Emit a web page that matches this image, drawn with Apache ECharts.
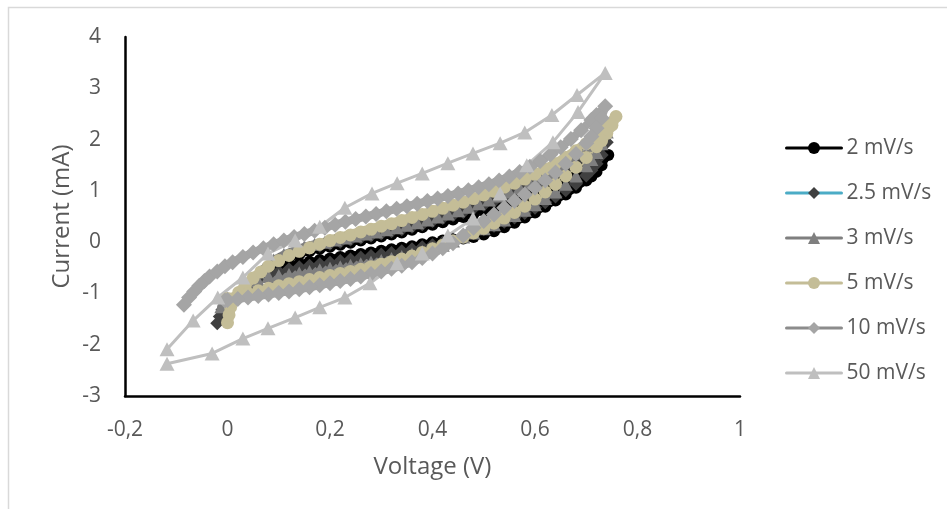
<!DOCTYPE html>
<html><head><meta charset="utf-8">
<script src="https://cdn.jsdelivr.net/npm/echarts@6/dist/echarts.min.js"></script>
<style>html,body{margin:0;padding:0;background:#fff}#c{width:947px;height:509px}</style>
</head><body><div id="c"></div>
<script>
const seriesNames = ['2 mV/s','2.5 mV/s','3 mV/s','5 mV/s','10 mV/s','50 mV/s'];
const xTickLabels = ['-0,2','0','0,2','0,4','0,6','0,8','1'];
const yTickLabels = ['-3','-2','-1','0','1','2','3','4'];

// 2 mV/s (forward then reverse)
const v_2 = [0.08,0.10,0.12,0.14,0.16,0.18,0.20,0.22,0.24,0.26,0.28,0.30,0.32,0.34,0.36,0.38,0.40,0.42,0.44,0.46,0.48,0.50,0.52,0.54,0.56,0.58,0.60,0.62,0.64,0.66,0.68,0.70,0.72,0.743,
  0.73,0.72,0.71,0.70,0.68,0.66,0.64,0.62,0.60,0.58,0.56,0.54,0.52,0.50,0.48,0.46,0.44,0.42,0.40,0.38,0.36,0.34,0.32,0.30,0.28,0.26,0.24,0.22,0.20,0.18,0.16,0.14,0.12,0.10,0.08];
const i_2 = [-0.52,-0.40,-0.31,-0.24,-0.18,-0.13,-0.09,-0.05,-0.01,0.03,0.07,0.11,0.15,0.19,0.24,0.29,0.34,0.39,0.44,0.49,0.55,0.61,0.67,0.73,0.79,0.86,0.93,1.01,1.09,1.18,1.28,1.40,1.54,1.70,
  1.50,1.37,1.28,1.20,1.06,0.93,0.81,0.69,0.58,0.48,0.38,0.29,0.21,0.15,0.10,0.07,0.05,0.03,0.00,-0.04,-0.08,-0.11,-0.14,-0.17,-0.20,-0.23,-0.26,-0.29,-0.32,-0.35,-0.38,-0.42,-0.46,-0.51,-0.56];

// 2.5 mV/s
const v_25 = [0.08,0.10,0.12,0.14,0.16,0.18,0.20,0.22,0.24,0.26,0.28,0.30,0.32,0.34,0.36,0.38,0.40,0.42,0.44,0.46,0.48,0.50,0.52,0.54,0.56,0.58,0.60,0.62,0.64,0.66,0.68,0.70,0.72,0.74,
  0.73,0.72,0.71,0.70,0.68,0.66,0.64,0.62,0.60,0.58,0.56,0.54,0.52,0.50,0.48,0.46,0.44,0.42,0.40,0.38,0.36,0.34,0.32,0.30,0.28,0.26,0.24,0.22,0.20,0.18,0.16,0.14,0.12,0.10,0.08,0.06,0.04,0.02,0.00,-0.01,-0.015,-0.02];
const i_25 = [-0.50,-0.36,-0.26,-0.18,-0.12,-0.07,-0.03,0.01,0.05,0.09,0.13,0.17,0.21,0.25,0.30,0.35,0.41,0.47,0.53,0.59,0.66,0.73,0.80,0.87,0.95,1.03,1.12,1.21,1.31,1.42,1.55,1.68,1.82,1.95,
  1.70,1.53,1.40,1.30,1.14,1.01,0.89,0.78,0.67,0.57,0.48,0.40,0.32,0.25,0.18,0.11,0.05,-0.01,-0.06,-0.10,-0.14,-0.18,-0.21,-0.24,-0.27,-0.30,-0.34,-0.37,-0.40,-0.43,-0.46,-0.49,-0.53,-0.58,-0.64,-0.76,-0.90,-1.05,-1.20,-1.32,-1.45,-1.58];

// 3 mV/s
const v_3 = [0.07,0.09,0.11,0.13,0.15,0.17,0.19,0.21,0.23,0.25,0.27,0.29,0.31,0.33,0.35,0.37,0.39,0.41,0.43,0.45,0.47,0.49,0.51,0.53,0.55,0.57,0.59,0.61,0.63,0.65,0.67,0.69,0.71,0.74,
  0.73,0.72,0.71,0.70,0.68,0.66,0.64,0.62,0.60,0.58,0.56,0.54,0.52,0.50,0.48,0.46,0.44,0.42,0.40,0.38,0.36,0.34,0.32,0.30,0.28,0.26,0.24,0.22,0.20,0.18,0.16,0.14,0.12,0.10,0.08,0.06,0.04,0.02,0.00,-0.012];
const i_3 = [-0.52,-0.35,-0.24,-0.16,-0.09,-0.04,0.00,0.04,0.08,0.12,0.16,0.20,0.24,0.28,0.33,0.38,0.43,0.49,0.55,0.61,0.68,0.75,0.82,0.90,0.98,1.06,1.15,1.25,1.35,1.47,1.60,1.74,1.89,2.15,
  1.92,1.75,1.61,1.49,1.29,1.13,0.98,0.85,0.73,0.62,0.52,0.43,0.34,0.26,0.18,0.10,0.02,-0.06,-0.12,-0.18,-0.23,-0.28,-0.32,-0.36,-0.39,-0.42,-0.45,-0.48,-0.51,-0.54,-0.57,-0.60,-0.63,-0.65,-0.67,-0.76,-0.89,-1.02,-1.15,-1.26];

// 5 mV/s
const v_5 = [0.000,0.003,0.006,0.012,0.022,0.035,0.050,0.065,0.080,0.10,0.12,0.14,0.16,0.18,0.20,0.22,0.24,0.26,0.28,0.30,0.32,0.34,0.36,0.38,0.40,0.42,0.44,0.46,0.48,0.50,0.52,0.54,0.56,0.58,0.60,0.62,0.64,0.66,0.68,0.70,0.72,0.74,0.758,
  0.75,0.74,0.73,0.72,0.70,0.68,0.66,0.64,0.62,0.60,0.58,0.56,0.54,0.52,0.50,0.48,0.46,0.44,0.42,0.40,0.38,0.36,0.34,0.32,0.30,0.28,0.26,0.24,0.22,0.20,0.18,0.16,0.14,0.12,0.10,0.08,0.06,0.04,0.02,0.00];
const i_5 = [-1.57,-1.42,-1.27,-1.12,-0.98,-0.84,-0.70,-0.58,-0.47,-0.36,-0.26,-0.18,-0.11,-0.04,0.03,0.09,0.14,0.20,0.25,0.31,0.36,0.42,0.48,0.54,0.60,0.66,0.72,0.78,0.85,0.92,0.99,1.07,1.15,1.23,1.32,1.42,1.53,1.65,1.78,1.92,2.07,2.25,2.45,
  2.28,2.12,1.98,1.86,1.65,1.46,1.29,1.13,0.98,0.84,0.70,0.58,0.47,0.37,0.27,0.18,0.10,0.02,-0.06,-0.13,-0.20,-0.27,-0.33,-0.38,-0.43,-0.48,-0.53,-0.57,-0.61,-0.65,-0.69,-0.73,-0.77,-0.81,-0.85,-0.90,-0.95,-1.00,-1.05,-1.10];

// 10 mV/s
const v_10 = [-0.085,-0.075,-0.065,-0.055,-0.045,-0.035,-0.020,-0.005,0.010,0.03,0.05,0.07,0.09,0.11,0.13,0.15,0.17,0.19,0.21,0.23,0.25,0.27,0.29,0.31,0.33,0.35,0.37,0.39,0.41,0.43,0.45,0.47,0.49,0.51,0.53,0.55,0.57,0.59,0.61,0.63,0.65,0.67,0.69,0.71,0.72,0.737,
  0.73,0.72,0.71,0.70,0.68,0.66,0.64,0.62,0.60,0.58,0.56,0.54,0.52,0.50,0.48,0.46,0.44,0.42,0.40,0.38,0.36,0.34,0.32,0.30,0.28,0.26,0.24,0.22,0.20,0.18,0.16,0.14,0.12,0.10,0.08,0.06,0.04,0.02,0.00,-0.005];
const i_10 = [-1.22,-1.08,-0.96,-0.85,-0.76,-0.67,-0.57,-0.47,-0.39,-0.29,-0.20,-0.12,-0.04,0.03,0.10,0.16,0.22,0.28,0.34,0.40,0.45,0.50,0.55,0.60,0.65,0.70,0.75,0.80,0.85,0.90,0.95,1.01,1.07,1.13,1.20,1.28,1.37,1.47,1.58,1.71,1.85,2.01,2.18,2.38,2.48,2.65,
  2.42,2.22,2.06,1.93,1.72,1.53,1.36,1.20,1.06,0.93,0.80,0.67,0.54,0.41,0.28,0.13,-0.02,-0.12,-0.22,-0.31,-0.39,-0.46,-0.52,-0.57,-0.62,-0.67,-0.72,-0.76,-0.80,-0.84,-0.88,-0.92,-0.96,-0.99,-1.02,-1.05,-1.08,-1.11,-1.13,-1.14];

// 50 mV/s
const v_50 = [-0.118,-0.067,-0.019,0.030,0.079,0.132,0.180,0.229,0.282,0.331,0.380,0.430,0.479,0.532,0.580,0.633,0.682,0.737,
  0.684,0.635,0.584,0.532,0.479,0.430,0.380,0.331,0.278,0.229,0.180,0.132,0.079,0.030,-0.030,-0.118];
const i_50 = [-2.09,-1.53,-1.08,-0.69,-0.22,0.03,0.30,0.67,0.95,1.15,1.34,1.54,1.73,1.93,2.14,2.48,2.87,3.30,
  2.54,1.95,1.50,0.95,0.46,0.13,-0.22,-0.41,-0.80,-1.08,-1.27,-1.47,-1.68,-1.88,-2.17,-2.37];

const voltages = [v_2, v_25, v_3, v_5, v_10, v_50];
const currents = [i_2, i_25, i_3, i_5, i_10, i_50];

// legend line colours (as in the original legend) and in-plot styling
const legendLineColors = ['#000000','#4BACC6','#7F7F7F','#C4BD97','#8C8C8C','#BFBFBF'];
const plotLineColors   = ['#000000','#404040','#7F7F7F','#C4BD97','#A5A5A5','#BFBFBF'];
const markerColors     = ['#000000','#404040','#7F7F7F','#C4BD97','#A5A5A5','#BFBFBF'];
const symbols          = ['circle','diamond','triangle','circle','diamond','triangle'];
const symbolSizes      = [12, 14, [14,13], 13, 16, [15,14]];
const lineWidths       = [7, 6, 8, 10, 8, 3];

const FONT = '"Open Sans", "DejaVu Sans", sans-serif';
const chart = echarts.init(document.getElementById('c'), null, {renderer: 'canvas'});

const series = seriesNames.map((name, k) => ({
  name, type: 'line',
  data: voltages[k].map((v, j) => [v, currents[k][j]]),
  symbol: symbols[k], symbolSize: symbolSizes[k], showSymbol: true,
  lineStyle: {color: plotLineColors[k], width: lineWidths[k], cap: 'round', join: 'round'},
  itemStyle: {color: markerColors[k], borderWidth: 0},
  emphasis: {disabled: true},
  animation: false
}));

chart.setOption({
  animation: false,
  backgroundColor: '#ffffff',
  graphic: [{type: 'rect', shape: {x: 8.5, y: 7.5, width: 1000, height: 1000},
    style: {fill: 'none', stroke: '#D9D9D9', lineWidth: 1.5}, silent: true}],
  grid: {left: 125, right: 207, top: 37, bottom: 113, containLabel: false},
  xAxis: {
    type: 'value', min: -0.2, max: 1, interval: 0.2,
    name: 'Voltage (V)', nameLocation: 'middle', nameGap: 59, nameMoveOverlap: false,
    nameTextStyle: {fontFamily: FONT, fontSize: 24, color: '#595959'},
    axisLine: {show: true, onZero: false, lineStyle: {color: '#000', width: 2.5}},
    axisTick: {show: false}, splitLine: {show: false},
    axisLabel: {fontFamily: FONT, fontSize: 21, color: '#595959', margin: 24,
      formatter: v => xTickLabels[Math.round((v + 0.2) / 0.2)]}
  },
  yAxis: {
    type: 'value', min: -3, max: 4, interval: 1,
    name: 'Current (mA)', nameLocation: 'middle', nameGap: 51, nameRotate: 90, nameMoveOverlap: false,
    nameTextStyle: {fontFamily: FONT, fontSize: 24, color: '#595959'},
    axisLine: {show: true, onZero: false, lineStyle: {color: '#000', width: 2.5}},
    axisTick: {show: false}, splitLine: {show: false},
    axisLabel: {fontFamily: FONT, fontSize: 21, color: '#595959', margin: 24,
      formatter: v => yTickLabels[Math.round(v + 3)]}
  },
  legend: {
    orient: 'vertical', left: 785, top: 136, padding: 0,
    itemWidth: 55, itemHeight: 15, itemGap: 21,
    textStyle: {fontFamily: FONT, fontSize: 21, color: '#595959', lineHeight: 24},
    data: seriesNames.map((n, k) => ({name: n, lineStyle: {width: 3, color: legendLineColors[k]}}))
  },
  series
});
</script>
</body></html>
